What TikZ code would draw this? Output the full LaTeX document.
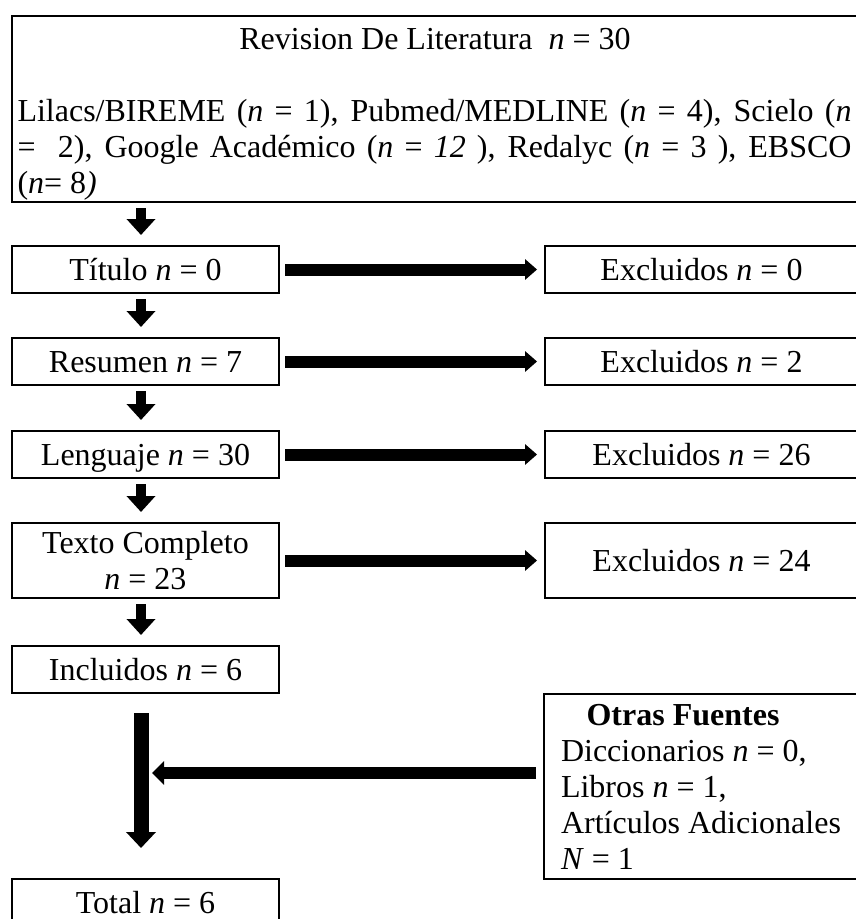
\documentclass[tikz,border=0pt]{standalone}
\usepackage{fontspec}
\setmainfont{Liberation Serif}
\usetikzlibrary{arrows.meta}

\begin{document}
\begin{tikzpicture}[x=0.375pt,y=-0.375pt,
  txt/.style={font=\fontsize{12}{13.5}\selectfont},
  box/.style={txt,draw,line width=0.75pt,inner sep=0pt},
  left box/.style={box,minimum width=100.125pt,minimum height=17.625pt,text height=8.4pt,text depth=0pt},
  right box/.style={box,minimum width=117.375pt,minimum height=17.625pt,text height=8.4pt,text depth=0pt},
  vstep/.style={line width=3.75pt,-{Triangle[length=6pt,width=10.5pt]},shorten <=1.875pt,shorten >=3.75pt},
  hstep/.style={line width=4.5pt,-{Triangle[length=4.5pt,width=7.5pt]},shorten <=1.875pt,shorten >=2.6pt}]

  \useasboundingbox (0,0) rectangle (856,919);

  % busqueda
  \node[box,minimum width=317.25pt,minimum height=69.75pt] (rev) at (435,109) {};
  \node[txt,anchor=base] (revtit) at (435,49) {Revision De Literatura \ \textit{n} = 30};
  \node[txt,anchor=north west,inner sep=0pt,align=left] (revsrc) at (17,99)
    {\makebox[312.75pt][s]{Lilacs/BIREME (\textit{n} = 1), Pubmed/MEDLINE (\textit{n} = 4), Scielo (\textit{n}}\\
     \makebox[312.75pt][s]{= \ 2), Google Académico (\textit{n} = \textit{12} ), Redalyc (\textit{n} = 3 ), EBSCO}\\
     (\textit{n}= 8\textit{)}};

  % filtros
  \node[left box] (tit) at (145.5,269.5) {Título \textit{n} = 0};
  \node[left box] (res) at (145.5,361.5) {Resumen \textit{n} = 7};
  \node[left box] (len) at (145.5,454.5) {Lenguaje \textit{n} = 30};
  \node[box,minimum width=100.125pt,minimum height=28.125pt,align=center] (tex) at (145.5,560.5) {Texto Completo\\\textit{n} = 23};
  \node[left box] (inc) at (145.5,669.5) {Incluidos \textit{n} = 6};
  \node[left box] (tot) at (145.5,902.5) {Total \textit{n} = 6};

  \node[right box] (exc0) at (701.5,269.5) {Excluidos \textit{n} = 0};
  \node[right box] (exc2) at (701.5,361.5) {Excluidos \textit{n} = 2};
  \node[right box] (exc26) at (701.5,454.5) {Excluidos \textit{n} = 26};
  \node[right box,minimum height=28.125pt] (exc24) at (701.5,560.5) {Excluidos \textit{n} = 24};

  \node[box,minimum width=117.75pt,minimum height=69.375pt,align=left] (otras) at (701,786.5)
    {\makebox[91.5pt][c]{\textbf{Otras Fuentes}}\\
     Diccionarios \textit{n} = 0,\\
     Libros \textit{n} = 1,\\
     Artículos Adicionales\\
     \textit{N} = 1};

  \coordinate (spine) at (141,0);
  \coordinate (merge) at (141,773);

  \path[vstep] (rev.south -| spine) edge (tit.north -| spine)
    (tit.south -| spine) edge (res.north -| spine)
    (res.south -| spine) edge (len.north -| spine)
    (len.south -| spine) edge (tex.north -| spine)
    (tex.south -| spine) edge (inc.north -| spine);

  \path[hstep] (tit) edge (exc0)
    (res) edge (exc2)
    (len) edge (exc26)
    (tex) edge (exc24);

  \draw[line width=5.625pt,-{Triangle[length=6pt,width=10.875pt]},shorten <=7.125pt,shorten >=11.25pt]
    (inc.south -| spine) -- (tot.north -| spine);
  \draw[line width=4.5pt,-{Triangle[length=4.5pt,width=8.625pt]},shorten <=2.625pt,shorten >=4.125pt]
    (otras.west |- merge) -- (merge);
\end{tikzpicture}
\end{document}
